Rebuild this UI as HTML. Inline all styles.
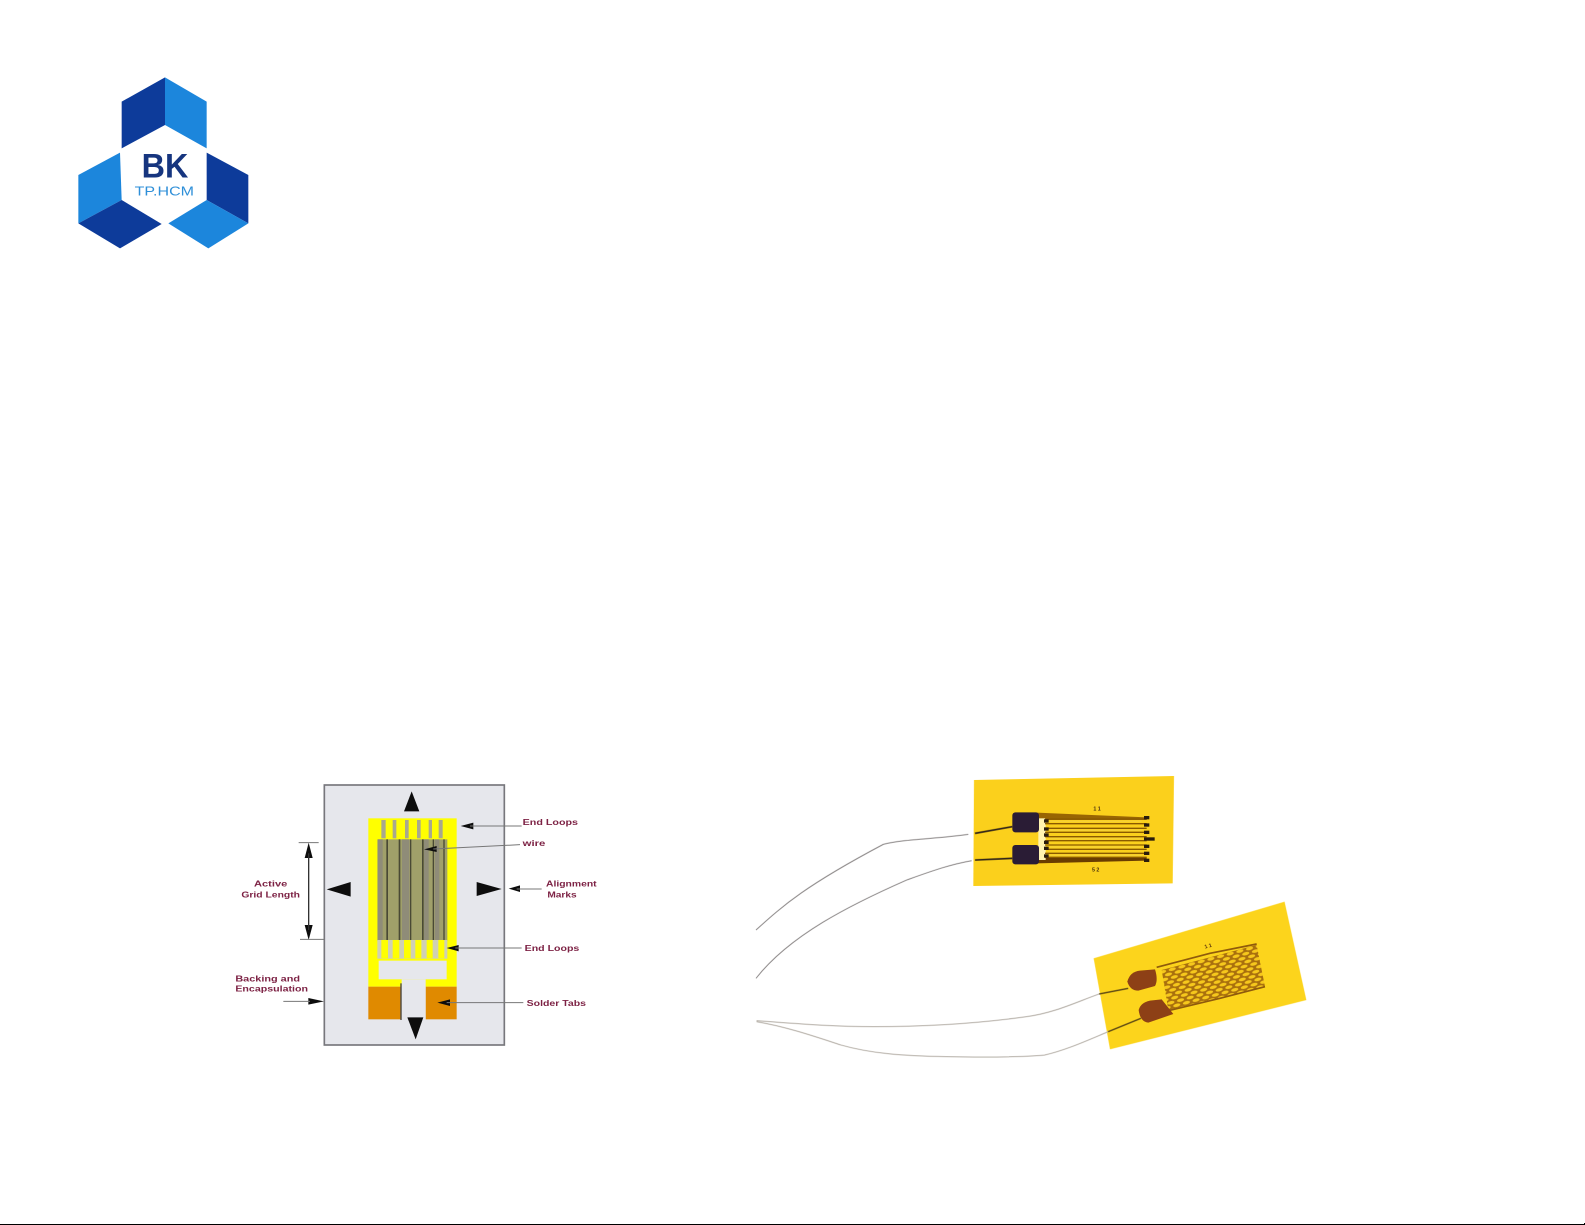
<!DOCTYPE html>
<html lang="en"><head><meta charset="utf-8"><title>Strain gauge</title>
<style>html,body{margin:0;padding:0;background:#fff;width:1585px;height:1225px;overflow:hidden}svg{display:block}text{font-family:"Liberation Sans",sans-serif}</style></head>
<body>
<svg width="1585" height="1225" viewBox="0 0 1585 1225" xmlns="http://www.w3.org/2000/svg">
<defs>
<filter id="b" x="-5%" y="-5%" width="110%" height="110%"><feGaussianBlur stdDeviation="0.7"/></filter>
<filter id="w" x="-5%" y="-5%" width="110%" height="110%"><feGaussianBlur stdDeviation="0.9"/></filter>
<pattern id="hatch" width="30" height="24" patternUnits="userSpaceOnUse" patternTransform="rotate(-15)">
<rect width="30" height="24" fill="#a9700f"/>
<ellipse cx="15" cy="6" rx="11" ry="5" fill="#f6c81e"/><ellipse cx="0" cy="18" rx="11" ry="5" fill="#f6c81e"/><ellipse cx="30" cy="18" rx="11" ry="5" fill="#f6c81e"/></pattern>
</defs>

<!-- logo -->
<g transform="translate(60,60) scale(.33333)" filter="url(#b)">
<polygon points="315,52 185,125 185,265 315,195" fill="#0b3a9a"/>
<polygon points="315,52 440,125 440,265 315,195" fill="#1f86dc"/>
<polygon points="180,278 55,345 55,490 185,420" fill="#1f86dc"/>
<polygon points="55,490 185,420 305,492 180,565" fill="#0b3a9a"/>
<polygon points="440,278 565,345 565,490 440,420" fill="#0b3a9a"/>
<polygon points="565,490 440,420 325,490 445,565" fill="#1f86dc"/>
<text x="315" y="352" text-anchor="middle" font-size="102" font-weight="700" fill="#14357f" textLength="140" lengthAdjust="spacingAndGlyphs">BK</text>
<text x="313" y="407" text-anchor="middle" font-size="38" fill="#2f8fd8" textLength="178" lengthAdjust="spacingAndGlyphs">TP.HCM</text>
</g>

<!-- schematic -->
<g transform="translate(220,770) scale(.33333)" filter="url(#b)">
<rect x="313" y="45" width="540" height="780" fill="#e6e7ec" stroke="#77777c" stroke-width="5"/>
<rect x="445" y="145" width="265" height="505" fill="#ffff00"/>
<!-- top loop gaps -->
<g fill="#a8a88e"><rect x="484" y="150" width="13" height="55"/><rect x="518" y="150" width="11" height="55"/><rect x="555" y="150" width="11" height="55"/><rect x="591" y="150" width="11" height="55"/><rect x="626" y="150" width="10" height="55"/><rect x="656" y="150" width="12" height="55"/></g>
<!-- active grid -->
<rect x="472" y="208" width="210" height="305" fill="#a0a06a"/>
<g fill="#8f8c78"><rect x="474" y="208" width="14" height="305"/><rect x="546" y="208" width="22" height="305"/><rect x="612" y="208" width="14" height="305"/><rect x="644" y="208" width="14" height="305"/></g>
<g fill="#4a4a36"><rect x="499" y="208" width="5" height="305"/><rect x="536" y="208" width="5" height="305"/><rect x="570" y="208" width="4" height="305"/><rect x="606" y="208" width="5" height="305"/><rect x="638" y="208" width="4" height="305"/><rect x="670" y="208" width="4" height="305"/></g>
<!-- bottom loops -->
<rect x="472" y="510" width="210" height="56" fill="#cfd0b4"/>
<g fill="#ffff00"><rect x="484" y="510" width="20" height="55"/><rect x="518" y="510" width="20" height="55"/><rect x="552" y="510" width="20" height="55"/><rect x="586" y="510" width="18" height="55"/><rect x="620" y="510" width="18" height="55"/><rect x="655" y="510" width="18" height="55"/></g>
<rect x="476" y="572" width="204" height="56" fill="#e6e7ec"/>
<rect x="445" y="650" width="100" height="98" fill="#e08a00"/>
<rect x="617" y="650" width="93" height="98" fill="#e08a00"/>
<rect x="545" y="628" width="72" height="122" fill="#e6e7ec"/>
<rect x="541" y="640" width="4" height="110" fill="#444"/>
<!-- alignment marks -->
<g fill="#111"><polygon points="575,64 552,124 598,124"/><polygon points="562,742 610,742 587,808"/><polygon points="320,358 392,336 392,380"/><polygon points="770,336 770,378 845,357"/>
<!-- small arrows -->
<polygon points="722,168 760,158 760,178"/><polygon points="612,238 650,228 650,246"/><polygon points="866,356 900,346 900,366"/><polygon points="680,534 716,525 716,544"/><polygon points="652,698 690,688 690,708"/><polygon points="312,694 265,684 265,704"/>
<polygon points="266,218 254,264 278,264"/><polygon points="266,510 254,465 278,465"/></g>
<g stroke="#777" stroke-width="3" fill="none"><path d="M750 168H905M640 237L900 224M890 357H965M706 534H905M680 698H910M190 694H270M236 218H296M240 508H312"/></g>
<path d="M266 250V480" stroke="#333" stroke-width="4"/>
<g fill="#7d2344" font-size="24" font-weight="700">
<text x="908" y="165" textLength="166" lengthAdjust="spacingAndGlyphs">End Loops</text>
<text x="908" y="228" textLength="68" lengthAdjust="spacingAndGlyphs">wire</text>
<text x="978" y="350" textLength="152" lengthAdjust="spacingAndGlyphs">Alignment</text>
<text x="982" y="382" textLength="88" lengthAdjust="spacingAndGlyphs">Marks</text>
<text x="102" y="350" textLength="100" lengthAdjust="spacingAndGlyphs">Active</text>
<text x="64" y="382" textLength="176" lengthAdjust="spacingAndGlyphs">Grid Length</text>
<text x="914" y="543" textLength="164" lengthAdjust="spacingAndGlyphs">End Loops</text>
<text x="46" y="634" textLength="194" lengthAdjust="spacingAndGlyphs">Backing and</text>
<text x="46" y="664" textLength="218" lengthAdjust="spacingAndGlyphs">Encapsulation</text>
<text x="920" y="708" textLength="178" lengthAdjust="spacingAndGlyphs">Solder Tabs</text>
</g>
</g>

<!-- gauge 1 -->
<g transform="translate(750,765) scale(.33333)" filter="url(#b)">
<polygon points="672,45 1272,33 1268,355 670,363" fill="#fbd01a"/>
<g fill="none" stroke="#8a8686" stroke-width="3" filter="url(#w)">
<path d="M18 495C100 420 170 360 400 238C460 222 560 222 655 208"/>
<path d="M18 640C120 510 300 420 470 345C540 320 600 298 665 287"/>
</g>
<path d="M675 205L787 185M675 285L787 280" stroke="#33261a" stroke-width="5" fill="none"/>
</g>
<g transform="translate(1000,800) scale(.33333)" filter="url(#b)">
<path d="M110 38L440 52V60H135V100L110 40Z" fill="#8e5a00" opacity=".9"/>
<path d="M110 190L440 182V172H135V140L110 190Z" fill="#6a3c00"/>
<rect x="115" y="55" width="22" height="125" fill="#fff3b0"/>
<rect x="37" y="37" width="80" height="60" rx="9" fill="#2b1b35"/>
<rect x="37" y="135" width="80" height="58" rx="9" fill="#2b1b35"/>
<g stroke="#8a5a06" stroke-width="4"><path d="M135 57H440M135 71H440M135 85H440M135 97H440M135 110H440M135 122H440M135 135H440M135 148H440M135 160H440M135 172H440"/></g>
<g stroke="#f6d235" stroke-width="4"><path d="M150 64H425M150 91H425M150 116H425M150 141H425M150 166H425"/></g>
<g fill="#2b1b10"><rect x="132" y="58" width="14" height="10"/><rect x="132" y="82" width="14" height="10"/><rect x="132" y="100" width="14" height="10"/><rect x="132" y="122" width="14" height="10"/><rect x="132" y="140" width="14" height="10"/><rect x="132" y="163" width="14" height="10"/>
<rect x="432" y="48" width="16" height="10"/><rect x="432" y="70" width="16" height="10"/><rect x="432" y="92" width="16" height="10"/><rect x="432" y="112" width="32" height="10"/><rect x="432" y="134" width="16" height="10"/><rect x="432" y="155" width="16" height="10"/><rect x="432" y="176" width="16" height="10"/></g>
<g fill="#4a3010" font-size="16" font-weight="700"><text x="280" y="32">1 1</text><text x="276" y="214">5 2</text></g>
</g>

<!-- gauge 2 -->
<g transform="translate(750,890) scale(.36364,.33333)" filter="url(#b)">
<polygon points="945,205 1470,35 1530,330 990,478" fill="#fcd41e"/>
<g fill="none" stroke="#b4aea6" stroke-width="3" filter="url(#w)">
<path d="M18 392C120 400 220 410 340 410C500 410 640 398 760 380C840 368 900 335 960 312"/>
<path d="M18 395C100 410 180 440 250 465C330 490 420 498 540 500C640 502 740 502 810 495C870 480 930 450 985 425"/>
</g>
<path d="M960 312L1040 295M985 425L1075 385" stroke="#5a4612" stroke-width="4" fill="none"/>
</g>
<g transform="translate(1110,930) scale(.33333)" filter="url(#b)">
<polygon points="155,120 440,45 465,170 175,240" fill="url(#hatch)"/>
<path d="M140 112L300 70L440 42M175 242L330 205L465 170" fill="none" stroke="#8f5a08" stroke-width="5"/>
<path d="M52 155Q60 125 90 122L135 118Q145 150 135 168L85 182Q60 182 52 155Z" fill="#8d3f12"/>
<path d="M86 240Q92 218 120 212L155 208L190 252L115 278Q90 275 86 240Z" fill="#8d3f12"/>
<g fill="#5a3510" font-size="16" font-weight="700"><text x="285" y="56" transform="rotate(-15 285 56)">1 1</text></g>
</g>

<!-- bottom rule -->
<rect x="0" y="1224" width="1585" height="1" fill="#000"/>
<rect x="1584" y="1223" width="1" height="2" fill="#000"/>
</svg>
</body></html>
